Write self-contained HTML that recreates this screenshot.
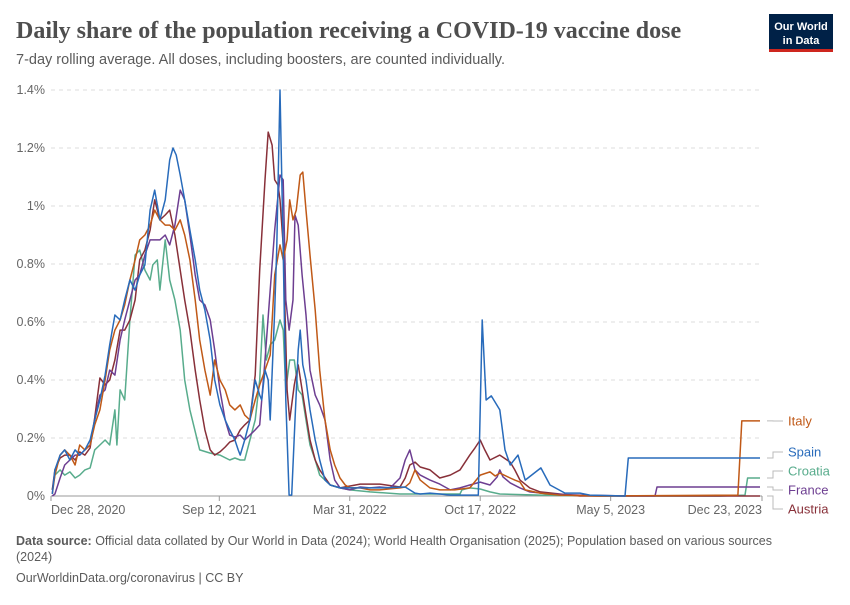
<!DOCTYPE html>
<html><head><meta charset="utf-8"><style>
body{margin:0;background:#fff;width:850px;height:600px;overflow:hidden;font-family:"Liberation Sans",sans-serif}
</style></head><body>
<svg width="850" height="600" xmlns="http://www.w3.org/2000/svg">
<text x="16" y="38" font-family="Liberation Serif,serif" font-size="24" font-weight="bold" fill="#4e4e4e">Daily share of the population receiving a COVID-19 vaccine dose</text>
<text x="16" y="64" font-size="14.5" fill="#5b5b5b">7-day rolling average. All doses, including boosters, are counted individually.</text>
<g>
<rect x="769" y="14" width="64" height="36" fill="#002147"/>
<rect x="769" y="49" width="64" height="3" fill="#ce261e"/>
<text x="801" y="30" font-size="11" fill="#fff" text-anchor="middle" font-weight="bold">Our World</text>
<text x="801" y="44" font-size="11" fill="#fff" text-anchor="middle" font-weight="bold">in Data</text>
</g>
<g id="grid"></g><g id="xaxis"></g><g id="lines"></g><g id="legend"></g>
<text x="16" y="545" font-size="12.5" fill="#5b5b5b"><tspan font-weight="bold">Data source:</tspan> Official data collated by Our World in Data (2024); World Health Organisation (2025); Population based on various sources</text>
<text x="16" y="561" font-size="12.5" fill="#5b5b5b">(2024)</text>
<text x="16" y="582" font-size="12.5" fill="#5b5b5b">OurWorldinData.org/coronavirus | CC BY</text>
</svg>
<script>
const yTicks=[0,0.2,0.4,0.6,0.8,1,1.2,1.4];
const yTickLabels=["0%","0.2%","0.4%","0.6%","0.8%","1%","1.2%","1.4%"];
const xTickDays=[0,258,458,658,858,1090];
const xTickLabels=["Dec 28, 2020","Sep 12, 2021","Mar 31, 2022","Oct 17, 2022","May 5, 2023","Dec 23, 2023"];
const countries=["Italy","Spain","Croatia","France","Austria"];
const spainDays=[2,6,14,21,29,37,44,52,60,67,75,83,90,98,106,113,121,129,136,144,152,159,167,175,182,187,192,198,205,213,221,228,236,244,251,259,267,274,282,287,290,297,305,313,320,323,328,333,336,343,346,351,356,360,365,369,374,379,382,386,391,397,405,412,420,428,443,458,504,543,558,566,581,596,612,627,642,655,661,667,675,688,696,704,716,727,751,765,788,811,826,880,885,1087];
const spainVals=[.007,.09,.141,.159,.124,.159,.141,.159,.193,.262,.331,.417,.521,.624,.607,.676,.745,.71,.762,.797,.986,1.055,.952,1.021,1.159,1.2,1.176,1.107,1.021,.917,.814,.71,.641,.538,.4,.314,.262,.228,.193,.159,.141,.193,.262,.4,.348,.331,.434,.4,.262,.641,.848,1.4,.848,.331,.003,.003,.262,.503,.572,.452,.4,.297,.193,.124,.055,.038,.028,.028,.028,.031,.01,.007,.01,.007,.003,.003,.003,.003,.607,.331,.345,.297,.159,.107,.141,.055,.097,.038,.01,.01,.003,0,.131,.131];
const italyDays=[2,6,14,21,29,37,44,52,60,67,75,83,90,98,106,113,121,129,136,144,152,159,167,175,182,190,198,205,213,221,228,236,244,251,259,267,274,282,290,297,305,313,320,328,336,343,351,356,362,366,371,376,382,386,391,397,405,412,420,428,435,443,451,458,474,489,504,535,543,550,558,566,581,596,619,642,658,673,681,688,704,711,719,727,750,780,842,1053,1059,1087];
const italyVals=[.007,.072,.141,.159,.141,.107,.176,.159,.176,.245,.297,.4,.503,.572,.607,.659,.745,.814,.883,.9,.934,.986,.952,.934,.934,.917,.952,.9,.814,.676,.538,.434,.348,.469,.4,.366,.314,.297,.314,.279,.262,.331,.383,.434,.486,.762,.866,.814,.883,1.021,.952,.986,1.107,1.117,.986,.831,.641,.434,.262,.159,.107,.062,.038,.028,.028,.021,.021,.028,.031,.045,.09,.055,.028,.021,.021,.028,.072,.083,.069,.079,.062,.055,.048,.021,.01,.003,0,.003,.259,.259];
const croatiaDays=[2,6,14,21,29,37,44,52,60,67,75,83,90,98,101,106,113,121,129,136,144,152,156,163,167,175,182,190,198,205,213,228,244,259,274,282,290,297,305,313,320,325,330,336,343,351,356,360,366,373,379,385,391,397,405,412,428,443,458,489,535,596,627,630,642,658,673,688,750,842,1026,1064,1068,1087];
const croatiaVals=[.021,.072,.09,.072,.083,.062,.072,.09,.097,.159,.176,.193,.176,.297,.176,.366,.331,.607,.831,.848,.779,.745,.797,.814,.71,.883,.745,.676,.572,.4,.297,.159,.148,.141,.124,.131,.124,.124,.193,.262,.4,.624,.469,.521,.538,.607,.572,.366,.469,.469,.366,.348,.262,.176,.124,.072,.038,.028,.021,.014,.007,.007,.007,.021,.028,.024,.014,.007,.003,0,0,.003,.062,.062];
const franceDays=[2,6,14,21,29,37,44,52,60,67,75,83,90,98,106,113,121,129,136,144,152,159,167,175,182,190,198,205,213,221,228,236,244,251,259,267,274,282,290,297,305,313,320,328,336,343,351,356,360,365,371,374,379,385,391,397,405,412,420,428,435,443,458,474,489,504,520,535,543,550,558,566,581,596,612,627,642,658,673,684,688,693,704,719,734,765,811,888,926,929,1087];
const franceVals=[0,.007,.062,.107,.124,.141,.141,.159,.176,.262,.348,.366,.434,.417,.538,.607,.676,.745,.762,.831,.883,.883,.883,.9,.866,.934,1.055,1.021,.9,.762,.676,.659,.607,.503,.366,.262,.21,.203,.21,.193,.21,.228,.245,.469,.71,.917,1.107,1.09,.676,.572,.676,.969,.934,.762,.624,.434,.348,.314,.262,.124,.055,.028,.021,.031,.028,.031,.028,.062,.124,.159,.09,.072,.055,.041,.021,.028,.038,.048,.038,.066,.09,.066,.045,.028,.014,.007,.003,0,0,.031,.031];
const austriaDays=[2,6,14,21,29,37,44,52,60,67,75,83,90,98,106,113,121,129,136,144,152,159,167,175,182,190,198,205,213,221,228,236,244,251,259,267,274,282,290,297,305,313,320,328,333,339,343,348,351,356,362,366,373,379,385,391,397,405,412,428,443,474,504,535,543,550,558,566,581,596,612,627,642,650,658,665,673,688,704,711,719,734,750,780,811,1087];
const austriaVals=[.021,.09,.131,.141,.141,.124,.152,.141,.166,.269,.407,.383,.4,.469,.572,.572,.607,.676,.814,.848,.917,1.021,.952,.969,.986,.9,.779,.676,.572,.434,.331,.228,.159,.141,.152,.169,.186,.193,.228,.245,.262,.417,.779,1.09,1.255,1.21,1.09,1.072,1.021,.866,.366,.262,.383,.452,.366,.279,.193,.124,.09,.038,.028,.041,.041,.031,.062,.107,.117,.1,.09,.062,.072,.09,.141,.166,.193,.159,.124,.141,.117,.09,.055,.028,.014,.007,0,0];

const X0=51,X1=762,Y0=496,Y1=90;
const xs=d=>X0+d*(X1-X0)/1090;
const ys=v=>Y0-v*(Y0-Y1)/1.4;
const NS="http://www.w3.org/2000/svg";
function mk(tag,attrs,parent){const e=document.createElementNS(NS,tag);for(const k in attrs)e.setAttribute(k,attrs[k]);parent.appendChild(e);return e;}
const grid=document.getElementById('grid');
yTicks.forEach((t,i)=>{
  if(i>0){const l=mk('line',{x1:X0,x2:X1,y1:ys(t),y2:ys(t),stroke:'#dddddd','stroke-dasharray':'4,4'},grid);
  
  }
  const tx=mk('text',{x:45,y:ys(t)+4,'font-size':'12.5',fill:'#666','text-anchor':'end'},grid);
  tx.textContent=yTickLabels[i];
  
  
});
const xa=document.getElementById('xaxis');
const base=mk('line',{x1:X0,x2:X1,y1:Y0,y2:Y0,stroke:'#999'},xa);


xTickDays.forEach((d,i)=>{
  const tk=mk('line',{x1:xs(d),x2:xs(d),y1:Y0,y2:Y0+5,stroke:'#999'},xa);
  
  
  let anchor='middle',x=xs(d);
  const t=mk('text',{x:x,y:514,'font-size':'12.5',fill:'#666','text-anchor':i==0?'start':(i==xTickDays.length-1?'end':'middle')},xa);
  if(i==0)t.setAttribute('x',x);
  t.textContent=xTickLabels[i];
  
  
});
const colors={Italy:'#c05917',Spain:'#286bbb',Croatia:'#58ac8c',France:'#6d3e91',Austria:'#883039'};
const seriesDays={Italy:italyDays,Spain:spainDays,Croatia:croatiaDays,France:franceDays,Austria:austriaDays};
const seriesVals={Italy:italyVals,Spain:spainVals,Croatia:croatiaVals,France:franceVals,Austria:austriaVals};
const lg=document.getElementById('lines');
["Croatia","Austria","France","Italy","Spain"].forEach(c=>{
  const d=seriesDays[c].map((dd,i)=>(i?'L':'M')+xs(dd).toFixed(1)+','+ys(seriesVals[c][i]).toFixed(1)).join('');
  const p=mk('path',{d:d,fill:'none',stroke:colors[c],'stroke-width':1.5,'stroke-linejoin':'round'},lg);
  
  
});
const legend=document.getElementById('legend');
const labelY=[421,452,471,490,509];
countries.forEach((c,i)=>{
  const vals=seriesVals[c];const ey=ys(vals[vals.length-1]);const ly=labelY[i];
  const con=mk('path',{d:`M767,${ey}H773V${ly}H783`,fill:'none',stroke:'#bbb','stroke-width':1},legend);
  
  
  const t=mk('text',{x:788,y:ly+4.5,'font-size':'13',fill:colors[c]},legend);
  t.textContent=c;
  
  
});
</script>
</body></html>
